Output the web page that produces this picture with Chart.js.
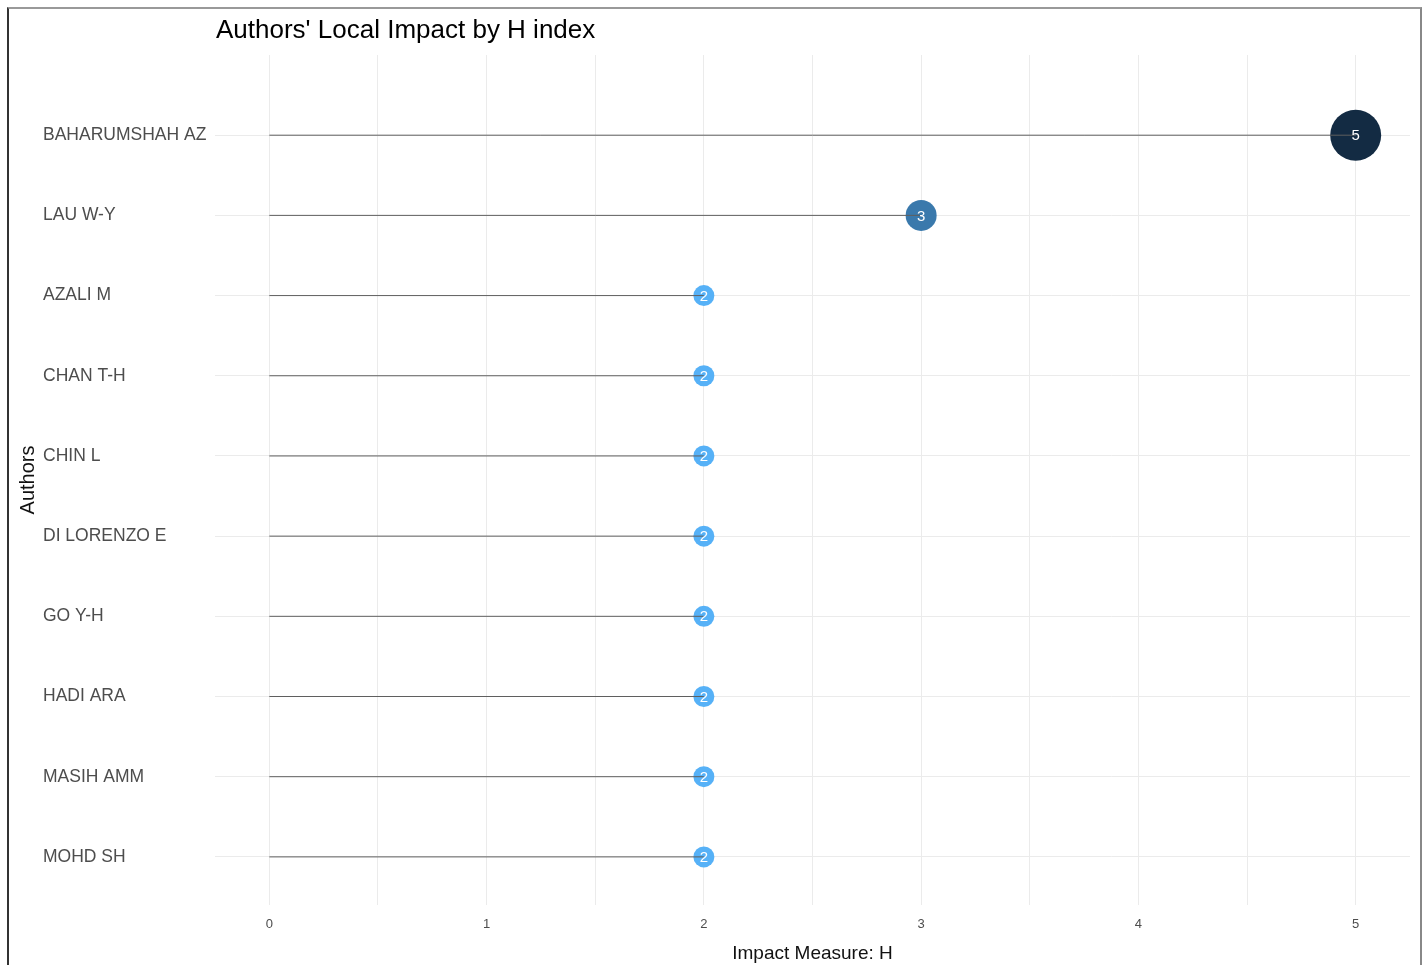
<!DOCTYPE html>
<html>
<head>
<meta charset="utf-8">
<title>Authors' Local Impact by H index</title>
<script src="https://cdn.jsdelivr.net/npm/chart.js@4.4.0/dist/chart.umd.min.js"></script>
<style>
  body { margin: 0; background: #fff; }
  #wrap { position: relative; width: 1425px; height: 965px; overflow: hidden; }
  #frame {
    position: absolute; left: 7px; top: 7px; width: 1415px; height: 980px;
    box-sizing: border-box;
    border-left: 2px solid #333; border-top: 2px solid #999; border-right: 2px solid #888;
    pointer-events: none;
  }
</style>
</head>
<body>
<div id="wrap">
  <canvas id="impactChart" width="1425" height="965"></canvas>
  <div id="frame"></div>
</div>
<script>
// Data
const authors = ["BAHARUMSHAH AZ", "LAU W-Y", "AZALI M", "CHAN T-H", "CHIN L",
                 "DI LORENZO E", "GO Y-H", "HADI ARA", "MASIH AMM", "MOHD SH"];
const hIndex = [5, 3, 2, 2, 2, 2, 2, 2, 2, 2];
const xTicks = [0, 0.5, 1, 1.5, 2, 2.5, 3, 3.5, 4, 4.5, 5];

const FONT = '"Liberation Sans", Arial, sans-serif';

// colour scale: low value light blue, high value dark navy (like ggplot reversed gradient)
function colorFor(v) {
    const lo = [86, 177, 247], hi = [19, 43, 67];
    const vMin = Math.min(...hIndex), vMax = Math.max(...hIndex);
    const t = vMax === vMin ? 0 : (v - vMin) / (vMax - vMin);
    const c = lo.map((a, k) => Math.round(a + (hi[k] - a) * Math.pow(t, 0.8)));
    return `rgb(${c[0]}, ${c[1]}, ${c[2]})`;
}

function radiusFor(v) {
    return 5 * v + 0.5;
}

// stems from 0 to the value, one per author
const stemSets = authors.map((a, i) => ({
    type: "line",
    data: [{ x: 0, y: i }, { x: hIndex[i], y: i }],
    borderColor: "#5f5f5f",
    borderWidth: 1,
    pointRadius: 0,
    fill: false
}));

const dotSet = {
    type: "scatter",
    data: hIndex.map((v, i) => ({ x: v, y: i })),
    pointRadius: ctx => radiusFor(ctx.raw.x),
    pointHoverRadius: ctx => radiusFor(ctx.raw.x),
    pointBackgroundColor: ctx => colorFor(ctx.raw.x),
    pointBorderWidth: 0
};

// texts drawn by hand: title, y title, values in the dots
const annotate = {
    id: "annotate",
    afterDatasetsDraw(chart) {
        const ctx = chart.ctx;
        const meta = chart.getDatasetMeta(chart.data.datasets.length - 1);
        ctx.save();
        ctx.fillStyle = "#ffffff";
        ctx.font = `15px ${FONT}`;
        ctx.textAlign = "center";
        ctx.textBaseline = "middle";
        meta.data.forEach((pt, i) => {
            ctx.fillText(String(hIndex[i]), pt.x, pt.y + 1);
        });
        ctx.restore();
    },
    afterDraw(chart) {
        const ctx = chart.ctx;
        const area = chart.chartArea;
        ctx.save();
        ctx.fillStyle = "#000";
        ctx.font = `26px ${FONT}`;
        ctx.textAlign = "left";
        ctx.textBaseline = "middle";
        ctx.fillText("Authors' Local Impact by H index", 216, 31);

        ctx.fillStyle = "#111";
        ctx.font = `20px ${FONT}`;
        ctx.translate(28, (area.top + area.bottom) / 2);
        ctx.rotate(-Math.PI / 2);
        ctx.textAlign = "center";
        ctx.fillText("Authors", 0, 0);
        ctx.restore();
    }
};

function createImpactChart() {
    const ctx = document.getElementById("impactChart").getContext("2d");

    window.impactChart = new Chart(ctx, {
        type: "scatter",
        data: { datasets: [...stemSets, dotSet] },
        options: {
            responsive: false,
            animation: false,
            events: [],
            // no extra room for the big dots, the plot area is fixed
            layout: { autoPadding: false, padding: { top: 55, right: 15, bottom: 0, left: 43 } },
            plugins: {
                legend: { display: false },
                tooltip: { enabled: false },
                title: { display: false }
            },
            scales: {
                x: {
                    type: "linear",
                    min: -0.25,
                    max: 5.25,
                    afterBuildTicks: scale => { scale.ticks = xTicks.map(v => ({ value: v })); },
                    afterFit: scale => { scale.height = 60; },
                    grid: { color: "#ebebeb", lineWidth: 1, drawTicks: false },
                    border: { display: false },
                    ticks: {
                        autoSkip: false,
                        maxRotation: 0,
                        padding: 12,
                        color: "#4d4d4d",
                        font: { family: FONT, size: 13 },
                        callback: v => Number.isInteger(v) ? String(v) : ""
                    },
                    title: {
                        display: true,
                        text: "Impact Measure: H",
                        color: "#111",
                        font: { family: FONT, size: 19 },
                        padding: { top: 3, bottom: 0 }
                    }
                },
                y: {
                    type: "linear",
                    reverse: true,
                    min: -1,
                    max: 9.6,
                    afterBuildTicks: scale => { scale.ticks = authors.map((a, i) => ({ value: i })); },
                    afterFit: scale => { scale.width = 172; },
                    grid: { color: "#ebebeb", lineWidth: 1, drawTicks: false },
                    border: { display: false },
                    ticks: {
                        autoSkip: false,
                        crossAlign: "far",
                        padding: 0,
                        color: "#4d4d4d",
                        font: { family: FONT, size: 17.5 },
                        callback: v => authors[v] || ""
                    }
                }
            }
        },
        plugins: [annotate]
    });
}

document.addEventListener("DOMContentLoaded", () => {
    createImpactChart();
});
</script>
</body>
</html>
